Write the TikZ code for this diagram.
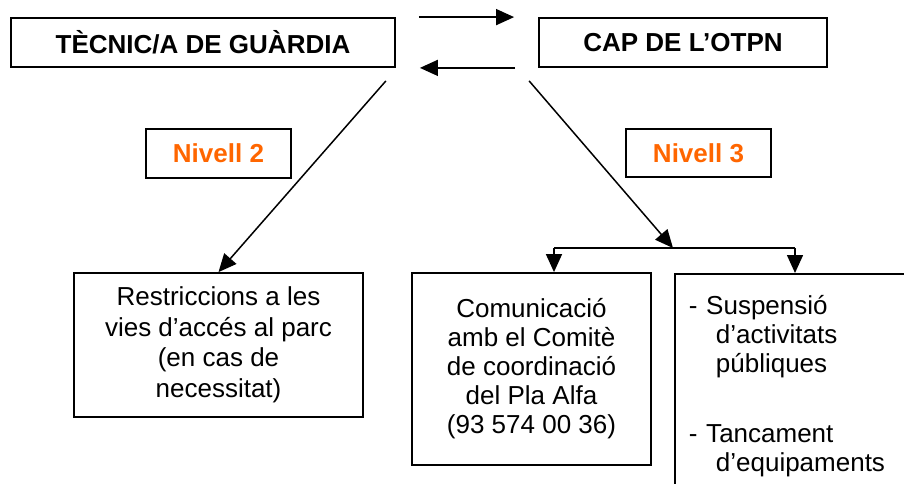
\documentclass[tikz,border=0pt]{standalone}
\usepackage{fontspec}
\setmainfont{Liberation Sans}
\usetikzlibrary{arrows.meta,calc}
\definecolor{nivorange}{RGB}{255,102,0}
\begin{document}
\begin{tikzpicture}[x=1pt,y=-1pt,
  box/.style={draw=black, line width=1.8pt, inner sep=0pt, align=center,
    font=\fontsize{26}{29}\selectfont},
  headbox/.style={box, font=\bfseries\fontsize{26}{29}\selectfont},
  levelbox/.style={box, text=nivorange, font=\bfseries\fontsize{26}{29}\selectfont},
  conn/.style={line width=1.5pt, -{Triangle[length=18pt,width=16pt]}},
  plain/.style={line width=1.5pt}]
\useasboundingbox (0,0) rectangle (904,484);
\clip (0,0) rectangle (904,484);
\fill[white] (0,0) rectangle (904,484);

% top boxes
\node[headbox, minimum width=384pt, minimum height=49pt] (tec) at (203,42.5) {TÈCNIC/A DE GUÀRDIA};
\node[headbox, minimum width=288pt, minimum height=49pt] (cap) at (683,42.5) {CAP DE L’OTPN};

% level labels
\node[levelbox, minimum width=145pt, minimum height=49pt] (n2) at (218.5,153.5) {Nivell 2};
\node[levelbox, minimum width=145pt, minimum height=48pt] (n3) at (698.5,153) {Nivell 3};

% bottom boxes
\node[box, minimum width=289pt, minimum height=144pt,
  font=\fontsize{26}{30.5}\selectfont] (res) at (218.5,345)
  {Restriccions a les\\vies d’accés al parc\\(en cas de\\necessitat)};
\node[box, minimum width=239pt, minimum height=192pt] (com) at (531.5,369)
  {Comunicació\\amb el Comitè\\de coordinació\\del Pla Alfa\\(93 574 00 36)};
\node[box, anchor=north west, align=left, text width=236pt, inner xsep=14pt,
  minimum height=224pt] (sus) at (674,273)
  {- Suspensió\\\hspace*{27pt}d’activitats\\\hspace*{27pt}públiques\\[41pt]- Tancament\\\hspace*{27pt}d’equipaments};

% exchange arrows between the top boxes
\draw[conn] ($(tec.north east)+(23,0)$) -- ($(cap.north west)+(-24,0)$);
\draw[conn] ($(cap.south west)+(-23,0)$) -- ($(tec.south east)+(24,0)$);

% diagonals
\coordinate (tecfoot) at ($(tec.south east)+(-10,13)$);
\coordinate (capfoot) at ($(cap.south west)+(-9,13)$);
\coordinate (split) at (673,248);
\coordinate (splitL) at (554,248);
\coordinate (splitR) at (795,248);
\draw[conn] (tecfoot) -- (res.north);
\draw[conn] (capfoot) -- (split);
\draw[plain] (splitL) -- (splitR);
\draw[conn] (splitL) -- (splitL |- com.north);
\draw[conn] (splitR) -- (splitR |- sus.north);
\end{tikzpicture}
\end{document}
